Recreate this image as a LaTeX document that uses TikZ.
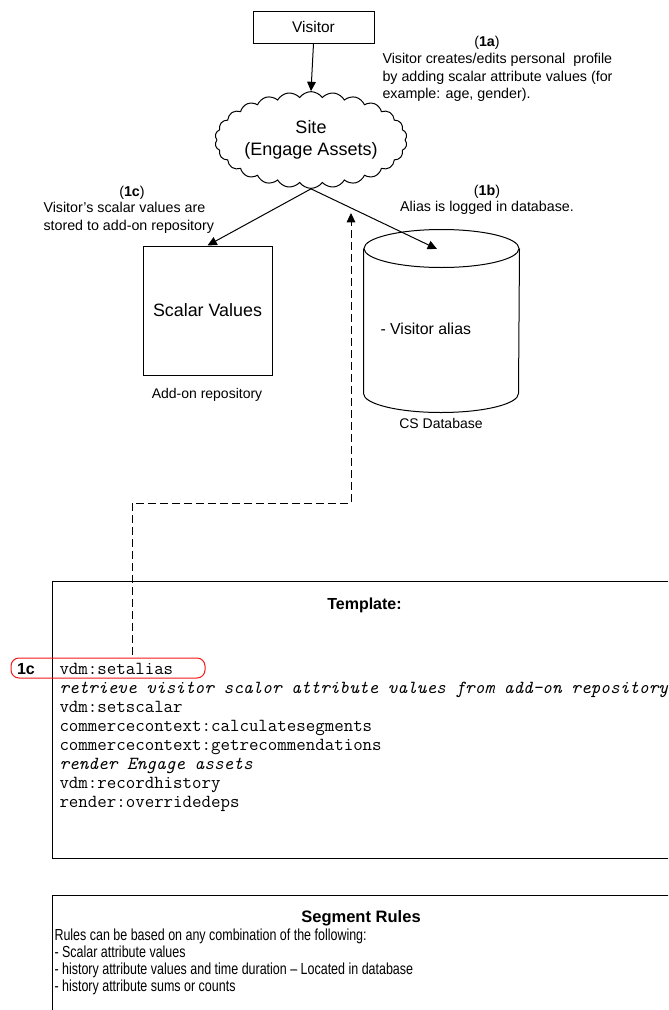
\documentclass[tikz,border=0pt]{standalone}
\usepackage{fontspec}
\setmainfont{Liberation Sans}
\newfontfamily\narrowsans[FakeStretch=0.78]{Liberation Sans}
\usetikzlibrary{arrows.meta, positioning, shapes.geometric, shapes.symbols}
\definecolor{cmark}{HTML}{F01818}
\tikzset{
  every picture/.style={line width=0.75pt},
  box/.style={draw, fill=white, align=center, inner sep=0pt},
  arrow/.style={-{Triangle[length=7pt, width=6.5pt]}, draw},
  dasharrow/.style={arrow, dash pattern=on 6pt off 3pt},
  note/.style={font=\fontsize{10.7}{13.1}\selectfont, align=left, inner sep=0pt},
  caption/.style={font=\fontsize{10.5}{12.5}\selectfont, inner sep=0pt},
  code/.style={font=\ttfamily\fontsize{13.8}{14.25}\selectfont, align=left, inner sep=0pt},
  heading/.style={font=\bfseries\fontsize{12}{14}\selectfont, inner sep=0pt},
}

\begin{document}
\begin{tikzpicture}[x=0.75pt, y=-0.75pt]
  \useasboundingbox (0,0) rectangle (668,1010);
  \clip (0,0) rectangle (668,1010);

  % visitor, site and the two stores
  \node[box, minimum width=90.75pt, minimum height=24pt, font=\fontsize{11.6}{14}\selectfont] (visitor) at (313.5,27) {Visitor};
  \node[cloud, draw, cloud puffs=26, cloud puff arc=110, aspect=2.2, minimum width=144pt, minimum height=63pt,
        inner sep=0pt, align=center, font=\fontsize{13.5}{16.5}\selectfont] (site) at (311,140) {Site\\(Engage Assets)};
  \node[box, minimum width=96.75pt, minimum height=96.75pt, font=\fontsize{13.4}{16}\selectfont] (scalar) at (207.5,310.5) {Scalar Values};
  \node[caption] (repo) at (207,395) {Add-on repository};
  \node[minimum width=116.25pt, minimum height=136.5pt, inner sep=0pt] (csdb) at (441.5,321) {};
  \draw ([yshift=-14.25pt]csdb.north west) -- ([yshift=14.25pt]csdb.south west)
    arc[start angle=180, end angle=360, x radius=58.125pt, y radius=14.25pt]
    -- ([yshift=-14.25pt]csdb.north east);
  \draw ([yshift=-14.25pt]csdb.north) ellipse [x radius=58.125pt, y radius=14.25pt];
  \node[anchor=west, inner sep=0pt, font=\fontsize{11.9}{14}\selectfont] (alias) at (380,329) {- Visitor alias};
  \node[caption] (dbname) at (441,423) {CS Database};
  \coordinate (dbtop) at (437,249);

  % step notes
  \node[note] (n1a) at (487,43) {(\textbf{1a})};
  \node[note, anchor=north west] (t1a) at (382,53) {Visitor creates/edits personal\ \ profile\\by adding scalar attribute values (for\\example: age, gender).};
  \node[note] (n1c) at (132,193) {(\textbf{1c})};
  \node[note, anchor=north west] (t1c) at (43,202) {Visitor's scalar values are\\stored to add-on repository};
  \node[note] (n1b) at (487,192) {(\textbf{1b})};
  \node[note] (t1b) at (487,208) {Alias is logged in database.};

  \draw[arrow] (visitor.south) -- (site.north);
  \draw[arrow] (site.south) -- (scalar.north);
  \draw[arrow] (site.south) -- (dbtop);

  % template
  \node[draw, anchor=north west, minimum width=501pt, minimum height=207.75pt, inner sep=0pt] (template) at (52,581) {};
  \node[heading] (ttitle) at (364.5,605) {Template:};
  \node[code, anchor=north west] (calls) at (59,663) {vdm:setalias\\
    \textit{retrieve visitor scalor attribute values from add-on repository}\\
    vdm:setscalar\\
    commercecontext:calculatesegments\\
    commercecontext:getrecommendations\\
    \textit{render Engage assets}\\
    vdm:recordhistory\\
    render:overridedeps};
  \node[draw=cmark, rounded corners=6pt, minimum width=145.5pt, minimum height=15pt, inner sep=0pt] (mark) at (108,668) {};
  \node[heading] (step1c) at (26,669) {1c};

  \coordinate (aliasout) at (132,655);
  \coordinate (aliasin) at (351,213);
  \draw[dasharrow] (aliasout) -- (132,503) -| (aliasin);

  % segment rules
  \node[draw, anchor=north west, minimum width=501pt, minimum height=112.5pt, inner sep=0pt] (segment) at (52,895) {};
  \node[heading, font=\bfseries\fontsize{12.4}{14}\selectfont] (stitle) at (361,918) {Segment Rules};
  \node[anchor=north west, align=left, inner sep=0pt, font=\narrowsans\fontsize{12}{12.75}\selectfont] (rules) at (54,928) {Rules can be based on any combination of the following:\\
    - Scalar attribute values\\
    - history attribute values and time duration – Located in database\\
    - history attribute sums or counts};
\end{tikzpicture}
\end{document}
